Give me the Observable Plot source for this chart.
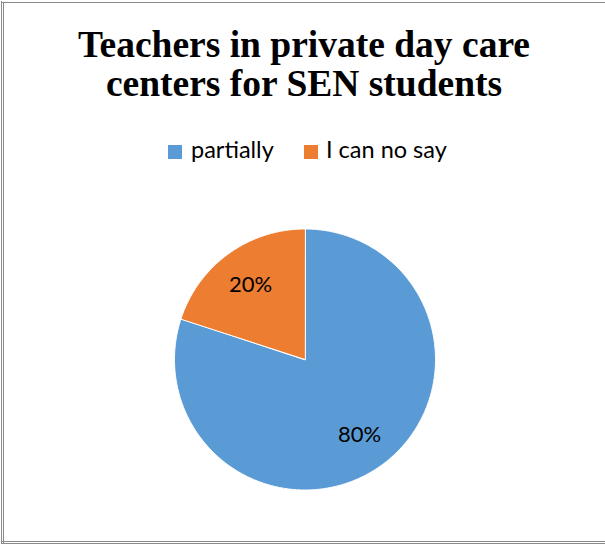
<!DOCTYPE html>
<html>
<head>
<meta charset="utf-8">
<script src="https://cdn.jsdelivr.net/npm/d3@7"></script>
<script src="https://cdn.jsdelivr.net/npm/@observablehq/plot@0.6"></script>
<style>
  html, body { margin: 0; padding: 0; background: #fff; }
  #wrap { position: relative; width: 605px; height: 544px; overflow: hidden; background: #fff; }
  .ln { position: absolute; background: #8a8a8a; }
  #title { position: absolute; left: 0; top: 25px; width: 608px; text-align: center;
           font-family: "Liberation Serif", serif; font-weight: bold; font-size: 37.5px; line-height: 39px; color: #000; }
  .sw { position: absolute; width: 14px; height: 14px; }
  .lt { position: absolute; font-family: Lato, sans-serif; font-size: 23.5px; line-height: 25px; color: #000; white-space: nowrap; }
  #chart { position: absolute; left: 0; top: 0; }
</style>
</head>
<body>
<div id="wrap">
  <div class="ln" style="left:1px;top:1px;width:1px;height:543px"></div>
  <div class="ln" style="left:3px;top:2px;width:1px;height:541px"></div>
  <div class="ln" style="left:1px;top:2px;width:604px;height:1px"></div>
  <div class="ln" style="left:1px;top:541px;width:604px;height:1px"></div>
  <div class="ln" style="left:1px;top:543px;width:604px;height:1px"></div>
  <div id="chart"></div>
  <div id="title">Teachers in private day care<br>centers for SEN students</div>
  <div id="legend"></div>
</div>
<script>
const categories = ["partially", "I can no say"];
const values = [80, 20];
const colors = ["#5B9BD5", "#ED7D31"];
const labels = ["80%", "20%"];

// legend
const legend = document.getElementById("legend");
const legendPos = [{sw: 168, tx: 191}, {sw: 304, tx: 326}];
categories.forEach((c, i) => {
  const s = document.createElement("div");
  s.className = "sw";
  s.style.left = legendPos[i].sw + "px";
  s.style.top = "145px";
  s.style.background = colors[i];
  legend.appendChild(s);
  const t = document.createElement("div");
  t.className = "lt";
  t.style.left = legendPos[i].tx + "px";
  t.style.top = "136.5px";
  t.textContent = c;
  legend.appendChild(t);
});

// pie geometry from data
const arcs = d3.pie().sort(null)(values);
const pts = [];
arcs.forEach((a, i) => {
  const cat = categories[i];
  pts.push({cat, x: 0, y: 0});
  const n = Math.max(2, Math.ceil((a.endAngle - a.startAngle) / 0.01));
  for (let k = 0; k <= n; k++) {
    const ang = a.startAngle + (a.endAngle - a.startAngle) * k / n;
    pts.push({cat, x: Math.sin(ang), y: Math.cos(ang)});
  }
});
const lab = arcs.map((a, i) => {
  const m = (a.startAngle + a.endAngle) / 2 - 0.05 * (i === 0 ? 1 : -1) * 0;
  return {text: labels[i], x: 0.71 * Math.sin(m), y: 0.71 * Math.cos(m)};
});

const chart = Plot.plot({
  width: 605,
  height: 544,
  marginLeft: 174,
  marginRight: 170,
  marginTop: 228.5,
  marginBottom: 54.5,
  x: {domain: [-1, 1], axis: null},
  y: {domain: [-1, 1], axis: null},
  color: {domain: categories, range: colors},
  style: {background: "transparent"},
  marks: [
    Plot.line(pts, {x: "x", y: "y", z: "cat", fill: "cat", stroke: "#fff", strokeWidth: 1, curve: "linear-closed"}),
    Plot.text(lab, {x: "x", y: "y", text: "text", fontSize: 22, fontFamily: "Lato, sans-serif", fill: "#000"})
  ]
});
document.getElementById("chart").appendChild(chart);
</script>
</body>
</html>
